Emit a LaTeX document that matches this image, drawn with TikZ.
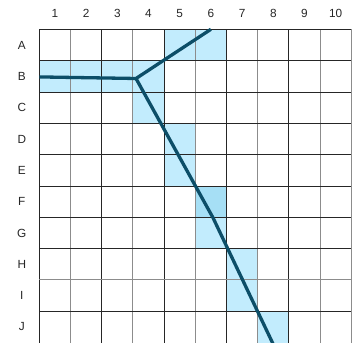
\documentclass[tikz,border=0pt]{standalone}
\usepackage{fontspec}
\setmainfont{Liberation Sans}
\definecolor{cellblue}{HTML}{C2ECFD}
\definecolor{celldark}{HTML}{A6DFF5}
\definecolor{pathcol}{HTML}{0C4E68}
\definecolor{gridgray}{gray}{0.55}
\tikzset{
  darkline/.style={draw=black!85, line width=0.9pt},
  grayline/.style={draw=gridgray, line width=0.9pt},
  lbl/.style={font=\fontsize{11.8}{13}\selectfont, text=black!85, inner sep=0pt},
  route/.style={draw=pathcol, line width=3.3pt, line join=round}
}
\begin{document}
\begin{tikzpicture}[x=1pt,y=-1pt]
\useasboundingbox (0,0) rectangle (354,343);
\clip (0,0) rectangle (354,343);
\begin{scope}[shift={(39.3,29.3)}, x=31.2pt, y=-31.33pt]
  % highlighted cells
  \foreach \c/\r in {5/1,6/1,1/2,2/2,3/2,4/2,4/3,5/4,5/5,6/7,7/8,7/9,8/10}
    \fill[cellblue] (\c-1,\r-1) rectangle (\c,\r);
  \fill[celldark] (5,5) rectangle (6,6);
  % grid lines
  \foreach \i in {0,2,4,6,8}
    \draw[darkline] (\i,0) -- (\i,10.2);
  \foreach \i in {1,3,5,7,9,10}
    \draw[grayline] (\i,0) -- (\i,10.2);
  \foreach \j in {0,1,2,3,4,5,6,7,9}
    \draw[darkline] (0,\j) -- (10,\j);
  \draw[grayline] (0,8) -- (10,8);
  % labels
  \foreach \n in {1,...,10}
    \node[lbl] (col\n) at (\n-0.5,-0.52) {\n};
  \foreach \L [count=\k] in {A,B,C,D,E,F,G,H,I,J}
    \node[lbl] (row\L) at (-0.56,\k-0.5) {\L};
  % route
  \coordinate (start) at (0,1.52);
  \coordinate (kink) at (3.1,1.57);
  \coordinate (top) at (5.5,0);
  \coordinate (bend) at (5.57,6.02);
  \coordinate (end) at (7.52,10.1);
  \draw[route] (start) -- (kink) -- (top);
  \draw[route] (kink) -- (bend) -- (end);
\end{scope}
\end{tikzpicture}
\end{document}
